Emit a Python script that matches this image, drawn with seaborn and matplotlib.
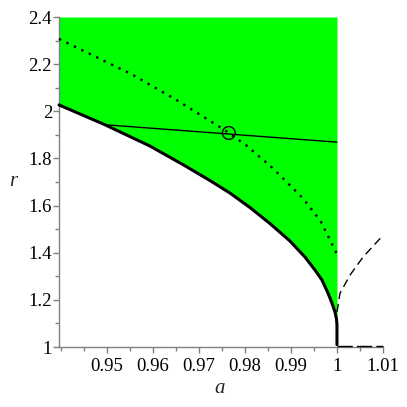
import matplotlib
matplotlib.use("Agg")
import matplotlib.pyplot as plt
import seaborn as sns
from matplotlib.ticker import FixedLocator, MultipleLocator, FixedFormatter

# boundary curve (thick)
bound_a = [0.9396, 0.9400, 0.94957, 0.95935, 0.96696, 0.97239, 0.97674, 0.98109, 0.98543,
           0.98978, 0.99304, 0.99522, 0.99674, 0.99804, 0.99891, 0.99957, 0.99989, 1.0, 1.0]
bound_r = [2.027, 2.0236, 1.943, 1.8527, 1.769, 1.7063, 1.6532, 1.5917, 1.5238,
           1.4496, 1.3817, 1.3265, 1.2841, 1.2289, 1.1865, 1.1483, 1.1186, 1.0931, 1.01]

# dotted curve
dot_a = [0.9396, 0.95537, 0.96478, 0.97420, 0.97652, 0.98037, 0.98609, 0.99261, 0.99652, 0.99993]
dot_r = [2.307, 2.157, 2.052, 1.9375, 1.908, 1.854, 1.758, 1.631, 1.5315, 1.397]

# thin straight line
thin_a = [0.9496, 1.0]
thin_r = [1.943, 1.869]

# circle marker
circ_a = [0.9765]
circ_r = [1.908]

# dashed curves right of a=1
dash1_a = [1.0, 1.00065, 1.00283, 1.00572, 1.00993]
dash1_r = [1.148, 1.2276, 1.305, 1.383, 1.472]
dash2_a = [1.0, 1.01]
dash2_r = [1.0055, 1.0055]

xticks = [0.95, 0.96, 0.97, 0.98, 0.99, 1.0, 1.01]
xtick_labels = ["0.95", "0.96", "0.97", "0.98", "0.99", "1", "1.01"]
yticks = [1.0, 1.2, 1.4, 1.6, 1.8, 2.0, 2.2, 2.4]
ytick_labels = ["1", "1.2", "1.4", "1.6", "1.8", "2", "2.2", "2.4"]

sns.set_style("ticks")
plt.rcParams['font.family'] = ['Liberation Serif', 'DejaVu Serif']

fig = plt.figure(figsize=(4.07, 4.07), dpi=100)
ax = fig.add_axes([59/407, 1 - 347/407, (383 - 59)/407, (347 - 17)/407])

ax.fill_between(bound_a, bound_r, 2.4, color="#00FF00", linewidth=0, zorder=1)

sns.lineplot(x=dot_a, y=dot_r, ax=ax, sort=False, estimator=None, color="black",
             linewidth=1.7, linestyle=(0, (1, 2.5)), zorder=3)
sns.lineplot(x=thin_a, y=thin_r, ax=ax, sort=False, estimator=None, color="black",
             linewidth=1.0, zorder=3)
sns.lineplot(x=bound_a, y=bound_r, ax=ax, sort=False, estimator=None, color="black",
             linewidth=2.2, zorder=4)
sns.lineplot(x=dash1_a, y=dash1_r, ax=ax, sort=False, estimator=None, color="black",
             linewidth=1.0, linestyle=(0, (6, 3.5)), zorder=3)
sns.lineplot(x=dash2_a, y=dash2_r, ax=ax, sort=False, estimator=None, color="black",
             linewidth=1.0, linestyle=(0, (11, 3)), zorder=3)
for ln in ax.lines:
    ln.set_clip_on(False)
sns.scatterplot(x=circ_a, y=circ_r, ax=ax, s=85, facecolor="none", edgecolor="black",
                linewidth=1.0, zorder=5)

ax.set_xlim(0.9396, 1.01)
ax.set_ylim(1.0, 2.4)

for s in ["top", "right"]:
    ax.spines[s].set_visible(False)
for s in ["left", "bottom"]:
    ax.spines[s].set_color("#808080")
    ax.spines[s].set_linewidth(1.0)

ax.xaxis.set_major_locator(FixedLocator(xticks))
ax.xaxis.set_major_formatter(FixedFormatter(xtick_labels))
ax.xaxis.set_minor_locator(MultipleLocator(0.005))
ax.yaxis.set_major_locator(FixedLocator(yticks))
ax.yaxis.set_major_formatter(FixedFormatter(ytick_labels))
ax.yaxis.set_minor_locator(MultipleLocator(0.1))

ax.tick_params(axis="both", which="major", direction="out", length=4, width=1,
               color="#808080", labelsize=13.5, labelcolor="black")
ax.tick_params(axis="x", which="major", pad=4)
ax.tick_params(axis="y", which="major", pad=1)
ax.tick_params(axis="both", which="minor", direction="out", length=3, width=1,
               color="#808080")

ax.set_xlabel("a", fontsize=15, fontstyle="italic", va="center")
ax.xaxis.set_label_coords(0.497, -0.125)
ax.set_ylabel("r", fontsize=15, fontstyle="italic", rotation=0, va="center", ha="center")
ax.yaxis.set_label_coords(-0.142, 0.50)

fig.savefig("out.png", dpi=100)
